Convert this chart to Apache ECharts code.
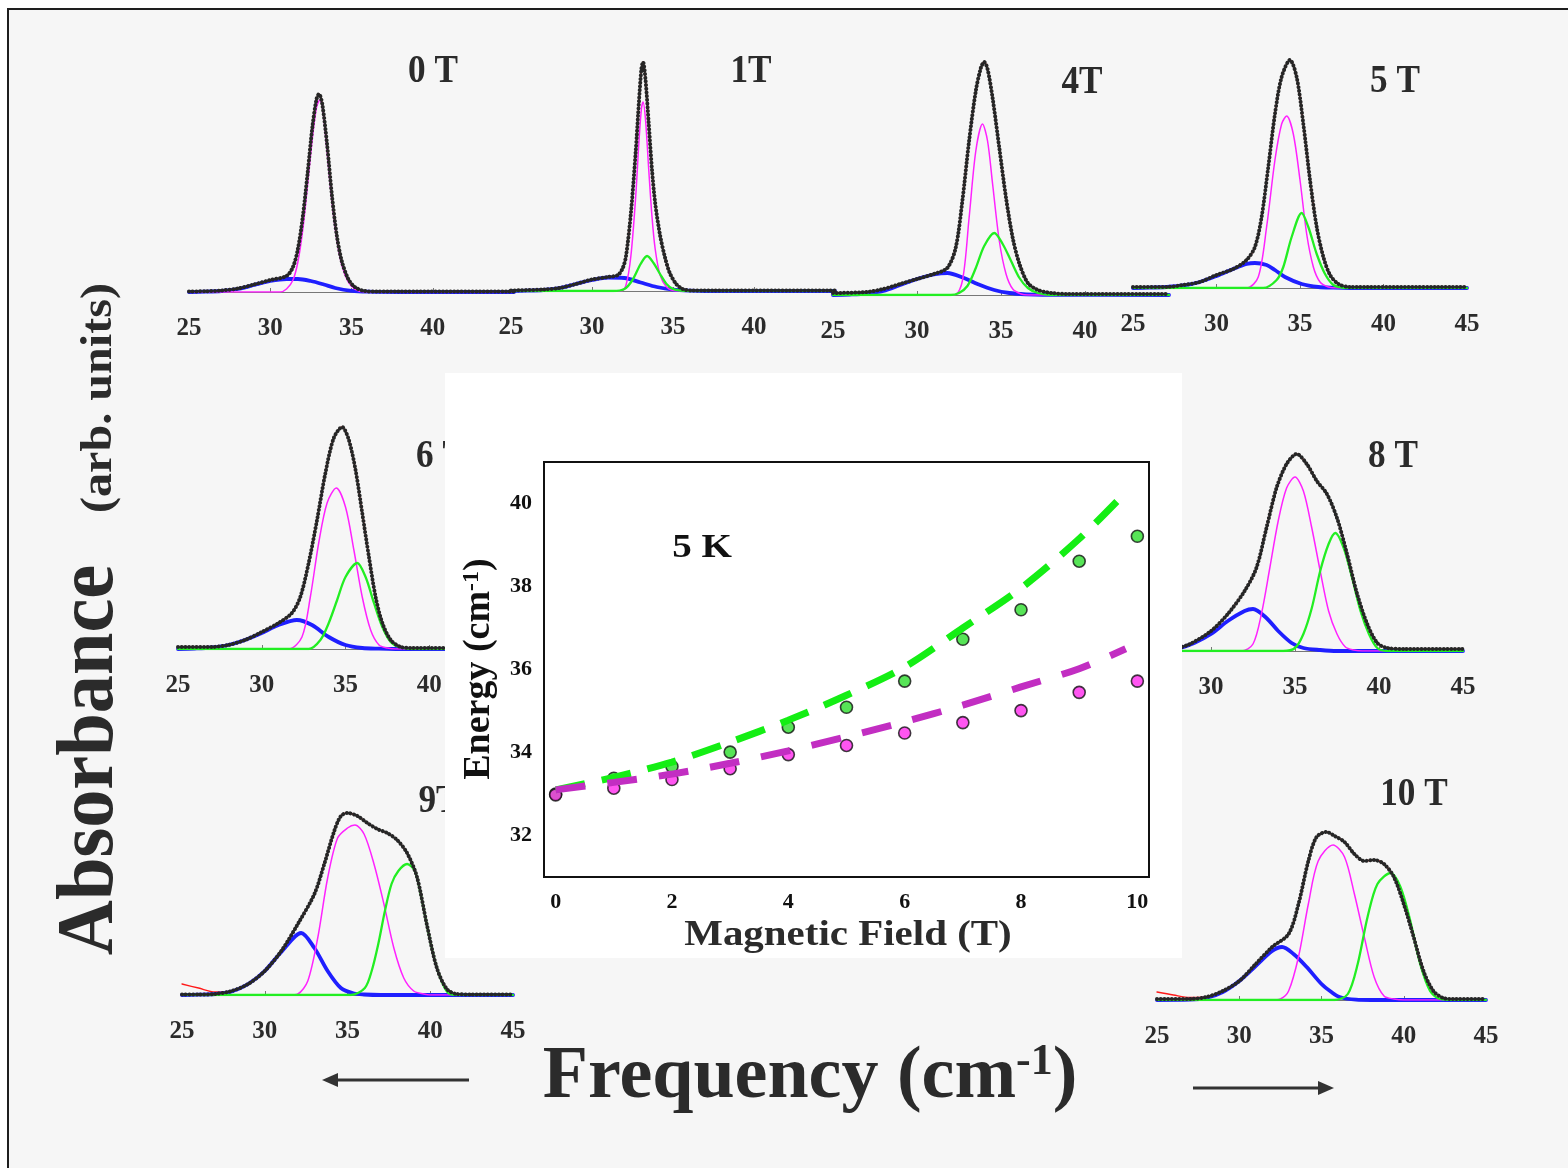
<!DOCTYPE html>
<html>
<head>
<meta charset="utf-8">
<script src="https://cdn.jsdelivr.net/npm/echarts@6/dist/echarts.min.js"></script>
<style>
  html, body { margin: 0; padding: 0; background: #fff; }
  #main { width: 1568px; height: 1168px; }
</style>
</head>
<body>
<div id="main"></div>
<script>
var FONT = "'Liberation Serif','Times New Roman',serif";
var INK = '#2b2b2b';

// spectra: [frequency (cm-1), absorbance (arb. units)]
// black = measured, blue / magenta / green = fitted components
var meas0T = [[25,0.5],[26,0.8],[27,1.5],[28,3.5],[29,7.5],[30,12],[31,16],[31.4,25],[31.7,43],[32,75],[32.3,119],[32.6,166],[32.85,193],[33,198],[33.2,188],[33.5,147],[33.8,96],[34.1,56],[34.4,31],[34.8,13],[35.2,5],[35.8,1],[36.5,0.5],[45,0.5]];
var blue0T = [[25,0],[26,0.3],[27,1],[28,3],[29,7],[30,11],[31,13],[31.7,13],[32.5,11],[33.3,7.5],[34,4],[35,1.2],[36,0.3],[38,0],[45,0]];
var magenta0T = [[25,0],[30.6,0],[31,3],[31.4,12],[31.7,30],[32,62],[32.3,108],[32.6,155],[32.85,185],[33.05,192],[33.25,180],[33.5,140],[33.8,90],[34.1,52],[34.4,27],[34.8,10],[35.2,3],[35.8,0],[45,0]];

var meas1T = [[25,0.5],[27,1.5],[28,3],[29,7],[30,11.5],[31,14],[31.6,16],[31.9,23],[32.1,35],[32.4,78],[32.7,140],[32.9,190],[33.05,222],[33.15,229],[33.3,212],[33.5,168],[33.7,122],[33.9,88],[34.2,56],[34.5,34],[34.8,18],[35.2,7],[35.6,2],[36.2,0.5],[45,0.5]];
var blue1T = [[25,0],[26,0.3],[27,1],[28,3],[29,7],[30,11],[31,13.5],[32,13],[33,8.5],[34,4],[35,1.3],[36,0.3],[37,0],[45,0]];
var magenta1T = [[25,0],[31.8,0],[32.1,6],[32.4,35],[32.7,95],[32.9,150],[33.05,182],[33.15,189],[33.3,172],[33.5,122],[33.7,75],[33.9,42],[34.2,16],[34.6,4],[35,0.5],[35.5,0],[45,0]];
var green1T = [[25,0],[31.3,0],[32,2],[32.5,11],[33,27],[33.4,35],[33.8,28],[34.2,17],[34.6,7],[35,2],[35.5,0.3],[36,0],[45,0]];

var meas4T = [[25,2],[27,3],[28,6],[29,11],[30,16],[31,21],[31.8,27],[32.3,47],[32.7,94],[33.1,154],[33.5,204],[33.8,227],[34,233],[34.2,226],[34.5,197],[34.9,147],[35.3,97],[35.7,57],[36.1,31],[36.6,12],[37.2,5],[38,2],[39,1],[45,1]];
var blue4T = [[25,0],[26,0.5],[27,1.5],[28,4],[29,10],[30,16],[31,20.5],[31.8,22],[32.8,17],[33.6,11],[34.6,5],[35.5,2],[36.5,0.7],[37.5,0.2],[45,0]];
var magenta4T = [[25,0],[32.2,0],[32.7,14],[33.1,77],[33.5,144],[33.9,171],[34.2,154],[34.5,111],[34.9,54],[35.3,21],[35.7,6],[36.2,1],[36.6,0],[45,0]];
var green4T = [[25,0],[32,0],[32.5,2],[33,9],[33.5,27],[34,49],[34.6,62],[35.1,51],[35.6,34],[36.1,17],[36.6,7],[37.2,2],[38,0],[45,0]];

var meas5T = [[25,1],[27,1],[28,3],[29,6],[30,13],[31,19],[31.8,28],[32.3,41],[32.7,71],[33.1,121],[33.5,174],[33.9,211],[34.4,228],[34.8,211],[35.2,164],[35.6,108],[36,61],[36.4,31],[36.8,13],[37.3,4],[38,1],[45,1]];
var blue5T = [[25,0],[26,0.3],[27,1],[28,2.5],[29,6],[30,12],[31,19],[31.8,24],[32.3,25],[33,23],[33.5,18],[34.1,11],[35.1,4],[36.1,1],[37,0.3],[38,0],[45,0]];
var magenta5T = [[25,0],[31.8,0],[32.5,11],[33,61],[33.5,128],[33.9,164],[34.2,172],[34.6,154],[35,108],[35.4,54],[35.8,21],[36.2,6],[36.7,1],[37.2,0],[45,0]];
var green5T = [[25,0],[32.8,0],[33.6,8],[34,21],[34.5,51],[35.1,75],[35.5,61],[36,34],[36.5,14],[37,3],[37.5,0.5],[38,0],[45,0]];

var meas6T = [[25,2],[27,2],[28,4],[29,9],[30,17],[31,26],[31.8,36],[32.3,52],[32.8,86],[33.3,129],[33.8,176],[34.3,211],[34.8,222],[35.2,209],[35.6,179],[36,136],[36.4,92],[36.8,52],[37.2,26],[37.7,9],[38.3,2],[39,1],[45,1]];
var blue6T = [[25,0],[26,0.5],[27,1.5],[28,4],[29,9],[30,16],[31,24],[32.1,29],[33,24],[34,12],[35,4],[36,1],[37,0.3],[38,0],[45,0]];
var magenta6T = [[25,0],[31.6,0],[32.4,12],[32.9,52],[33.4,106],[33.9,146],[34.45,161],[35,142],[35.5,99],[36,52],[36.5,19],[37,4],[37.5,1],[38,0],[45,0]];
var green6T = [[25,0],[32.8,0],[33.5,9],[34,26],[34.5,49],[35,72],[35.7,86],[36.2,72],[36.7,46],[37.2,22],[37.7,7],[38.2,2],[39,0],[45,0]];

var meas8T = [[25,1],[26,1],[27,1.5],[28,3],[28.75,7],[30,20],[31,37],[32,60],[32.7,83],[33.3,123],[33.9,163],[34.5,187],[35.1,197],[35.7,187],[36.3,170],[36.9,157],[37.5,133],[38.1,97],[38.7,57],[39.3,27],[39.9,8],[40.5,3],[41.5,2],[45,2]];
var blue8T = [[25,0],[26,0.1],[27,0.5],[28,2.2],[29,8],[30,17],[31,30],[32,40],[32.5,42],[33.3,33],[34,20],[34.8,8],[35.5,3],[36.5,1],[37.5,0],[45,0]];
var magenta8T = [[25,0],[31.8,0],[32.5,7],[33,37],[33.5,83],[34,130],[34.5,163],[35,174],[35.5,160],[36,123],[36.5,80],[37,40],[37.5,17],[38,4],[38.5,1],[39,0],[45,0]];
var green8T = [[25,0],[34.3,0],[35,3],[35.5,17],[36,43],[36.5,80],[37,107],[37.4,118],[37.9,103],[38.4,73],[38.9,40],[39.4,17],[39.9,3],[40.5,0],[45,0]];

var meas9T = [[25,0.5],[26,0.5],[27,1],[28,4],[29,11],[30,24],[31,44],[32,71],[33,101],[33.6,131],[34.2,164],[34.6,179],[35,182],[35.6,179],[36.2,172],[36.8,166],[37.4,162],[38,155],[38.6,142],[39.2,118],[39.8,70],[40.4,27],[41,6],[41.6,1],[42.5,0.5],[45,0.5]];
var redStart9T = [[25,11],[26,7],[27,3]];
var blue9T = [[25,0],[26,0.3],[27,1],[28,3.5],[29,11],[30,24],[31,43],[32.2,62],[33,47],[33.8,24],[34.6,7],[35.4,1.5],[36,0.5],[37,0],[45,0]];
var magenta9T = [[25,0],[31.5,0],[32,1],[32.6,14],[33.2,57],[33.8,117],[34.4,157],[35,167],[35.45,170],[36,161],[36.6,131],[37.2,91],[37.8,47],[38.4,17],[39,4],[39.6,1],[40,0],[45,0]];
var green9T = [[25,0],[35.2,0],[36.05,7],[36.46,24],[36.86,51],[37.26,84],[37.66,111],[38.07,124],[38.6,131],[39.07,124],[39.47,97],[39.87,64],[40.28,34],[40.68,14],[41.08,2],[41.6,0],[45,0]];

var meas10T = [[25,1],[27,1],[28,3],[29,9],[30,19],[31,36],[32,53],[33,66],[33.6,96],[34.2,139],[34.7,163],[35.3,168],[35.8,164],[36.4,158],[37,146],[37.6,139],[38.2,140],[38.8,136],[39.4,123],[40,96],[40.6,63],[41.2,29],[41.8,9],[42.4,2],[43,1],[45,1]];
var redStart10T = [[25,8],[26,5],[27,2.5]];
var blue10T = [[25,0],[27,0.3],[28,2],[29,8],[30,19],[31,34],[32,49],[32.6,53],[33.3,46],[34.1,33],[35,16],[35.6,8],[36.1,3],[37.1,0.3],[38,0],[45,0]];
var magenta10T = [[25,0],[32,0],[32.5,1],[33,9],[33.6,43],[34.2,96],[34.8,139],[35.7,155],[36.4,143],[37,106],[37.6,63],[38.2,23],[38.8,4],[39.4,1],[40,0],[45,0]];
var green10T = [[25,0],[35.8,0],[36.6,6],[37.2,36],[37.8,83],[38.4,116],[39.2,127],[39.8,113],[40.4,79],[41,36],[41.6,9],[42.2,1],[43,0],[45,0]];

// inset: peak energy vs magnetic field at 5 K
var fieldT = [0, 1, 2, 3, 4, 5, 6, 7, 8, 9, 10];
var peakGreen = [33.0, 33.38, 33.66, 34.01, 34.61, 35.09, 35.72, 36.73, 37.44, 38.61, 39.21];
var peakMagenta = [32.98, 33.14, 33.35, 33.61, 33.95, 34.17, 34.47, 34.72, 35.01, 35.45, 35.72];
var fitFieldT = [0, 1, 2, 3, 4, 5, 6, 7, 8, 9, 9.8];
var fitGreen = [33.1, 33.4, 33.77, 34.25, 34.78, 35.38, 36.06, 37.0, 37.96, 39.15, 40.27];
var fitMagenta = [33.1, 33.28, 33.48, 33.74, 34.04, 34.38, 34.74, 35.14, 35.58, 36.02, 36.5];
var fieldTicks = [0, 2, 4, 6, 8, 10];
var energyTicks = [32, 34, 36, 38, 40];

// panel layout (pixels)
var panels = [
  {name: '0 T', meas: meas0T, blue: blue0T, magenta: magenta0T, labels: [25,30,35,40], left: 189, base: 292, width: 325, tx: 433, ty: 72},
  {name: '1T', meas: meas1T, blue: blue1T, magenta: magenta1T, green: green1T, labels: [25,30,35,40], left: 511, base: 291, width: 324, tx: 751, ty: 72},
  {name: '4T', meas: meas4T, blue: blue4T, magenta: magenta4T, green: green4T, labels: [25,30,35,40], left: 833, base: 295, width: 336, tx: 1082, ty: 83},
  {name: '5 T', meas: meas5T, blue: blue5T, magenta: magenta5T, green: green5T, labels: [25,30,35,40,45], left: 1133, base: 288, width: 334, tx: 1395, ty: 82},
  {name: '6 T', meas: meas6T, blue: blue6T, magenta: magenta6T, green: green6T, labels: [25,30,35,40], left: 178, base: 649, width: 335, tx: 441, ty: 457},
  {name: '8 T', meas: meas8T, blue: blue8T, magenta: magenta8T, green: green8T, labels: [30,35,40,45], left: 1127, base: 651, width: 336, tx: 1393, ty: 457},
  {name: '9T', meas: meas9T, red: redStart9T.concat(meas9T.slice(3)), blue: blue9T, magenta: magenta9T, green: green9T, labels: [25,30,35,40,45], left: 182, base: 995, width: 331, tx: 439, ty: 802},
  {name: '10 T', meas: meas10T, red: redStart10T.concat(meas10T.slice(2)), blue: blue10T, magenta: magenta10T, green: green10T, labels: [25,30,35,40,45], left: 1157, base: 1000, width: 329, tx: 1414, ty: 795}
];

var H = 240;
var grids = [], xAxes = [], yAxes = [], series = [];
var graphics = [
  {type: 'rect', z: -1, shape: {x: 8, y: 9, width: 1600, height: 1200}, style: {fill: '#f6f6f6', stroke: '#1e1e1e', lineWidth: 2}}
];

function curve(i, data, color, width, z, dash) {
  return {
    type: 'line', xAxisIndex: i, yAxisIndex: i, data: data, smooth: 0.3,
    symbol: 'none', silent: true, z: z,
    lineStyle: {color: color, width: width, type: dash || 'solid', cap: 'round'}
  };
}

function text(str, x, y, size, extra) {
  var el = {
    type: 'text', x: x, y: y, z: 1,
    style: {
      text: str, fill: INK, font: 'bold ' + size + 'px ' + FONT,
      align: 'center', verticalAlign: 'middle', textAlign: 'center', textVerticalAlign: 'middle'
    }
  };
  for (var k in extra) el[k] = extra[k];
  return el;
}

panels.forEach(function (p, i) {
  grids.push({left: p.left, top: p.base - H, width: p.width, height: H});
  xAxes.push({
    gridIndex: i, type: 'value', min: 25, max: 45,
    axisLine: {show: true, lineStyle: {color: '#777', width: 1}},
    axisTick: {show: true, customValues: [30, 35, 40], inside: true, length: 4, lineStyle: {color: '#777'}},
    axisLabel: {customValues: p.labels, margin: 24, fontSize: 25, fontWeight: 'bold', fontFamily: FONT, color: INK},
    splitLine: {show: false}
  });
  yAxes.push({gridIndex: i, type: 'value', min: 0, max: H, show: false});

  series.push(curve(i, p.red || p.meas, '#ff1a1a', 1.3, 3));
  series.push(curve(i, p.blue, '#1f1fff', 3.8, 4));
  series.push(curve(i, p.magenta, '#ff22ff', 1.5, 5));
  if (p.green) series.push(curve(i, p.green, '#22ee22', 2.3, 5));
  series.push(curve(i, p.meas, '#262626', 4, 6, [0.1, 3.6]));

  graphics.push(text(p.name, p.tx, p.ty, 40, {scaleX: 0.88}));
});

// inset
var IN = panels.length;
grids.push({left: 544, top: 462, width: 605, height: 415, show: true, z: 55,
  backgroundColor: 'transparent', borderColor: '#111', borderWidth: 2});
xAxes.push({
  gridIndex: IN, type: 'value', min: -0.2, max: 10.2, z: 60,
  axisLine: {show: false}, axisTick: {show: false}, splitLine: {show: false},
  axisLabel: {customValues: fieldTicks, margin: 14, fontSize: 22, fontWeight: 'bold', fontFamily: FONT, color: '#111'}
});
yAxes.push({
  gridIndex: IN, type: 'value', min: 31, max: 41, z: 60,
  axisLine: {show: false}, axisTick: {show: false}, splitLine: {show: false},
  axisLabel: {customValues: energyTicks, margin: 12, fontSize: 22, fontWeight: 'bold', fontFamily: FONT, color: '#111'}
});

function pairs(xs, ys) {
  return xs.map(function (x, k) { return [x, ys[k]]; });
}

series.push({type: 'scatter', xAxisIndex: IN, yAxisIndex: IN, z: 62, symbolSize: 12,
  data: pairs(fieldT, peakGreen),
  itemStyle: {color: '#2ddd2d', borderColor: '#111', borderWidth: 1.6}});
series.push({type: 'scatter', xAxisIndex: IN, yAxisIndex: IN, z: 62, symbolSize: 12,
  data: pairs(fieldT, peakMagenta),
  itemStyle: {color: '#ff2aee', borderColor: '#111', borderWidth: 1.6}});
series.push({type: 'line', xAxisIndex: IN, yAxisIndex: IN, z: 63, smooth: 0.3, symbol: 'none',
  data: pairs(fitFieldT, fitGreen),
  lineStyle: {color: '#14ee14', width: 7, type: [30, 17]}});
series.push({type: 'line', xAxisIndex: IN, yAxisIndex: IN, z: 63, smooth: 0.3, symbol: 'none',
  data: pairs(fitFieldT, fitMagenta),
  lineStyle: {color: '#c22ec2', width: 7, type: [30, 22]}});

// inset card, covers the panels behind it
graphics.push({type: 'rect', z: 50, shape: {x: 445, y: 373, width: 737, height: 585}, style: {fill: '#ffffff'}});
graphics.push(text('5 K', 702, 548, 34, {z: 60, scaleX: 1.15, style: {text: '5 K', fill: '#111', font: 'bold 34px ' + FONT, align: 'center', verticalAlign: 'middle', textAlign: 'center', textVerticalAlign: 'middle'}}));
graphics.push(text('Magnetic Field (T)', 848, 936, 35, {z: 60, scaleX: 1.17}));
graphics.push({
  type: 'text', x: 479, y: 669, z: 60, rotation: Math.PI / 2,
  style: {
    text: '{a|Energy (cm}{s|-1}{a|)}', align: 'center', verticalAlign: 'middle', textAlign: 'center', textVerticalAlign: 'middle',
    rich: {
      a: {fontSize: 38, fontWeight: 'bold', fontFamily: FONT, fill: '#111'},
      s: {fontSize: 24, fontWeight: 'bold', fontFamily: FONT, fill: '#111', verticalAlign: 'top'}
    }
  }
});

// big figure labels
graphics.push(text('Absorbance', 91, 760, 80, {rotation: Math.PI / 2, scaleX: 0.955}));
graphics.push(text('(arb. units)', 99, 398, 45, {rotation: Math.PI / 2, scaleX: 1.07}));
graphics.push({
  type: 'text', x: 810, y: 1078, z: 1,
  style: {
    text: '{a|Frequency (cm}{s|-1}{a|)}', align: 'center', verticalAlign: 'middle', textAlign: 'center', textVerticalAlign: 'middle',
    rich: {
      a: {fontSize: 74, fontWeight: 'bold', fontFamily: FONT, fill: INK},
      s: {fontSize: 44, fontWeight: 'bold', fontFamily: FONT, fill: INK, verticalAlign: 'top'}
    }
  }
});

// arrows
graphics.push({type: 'line', z: 1, shape: {x1: 469, y1: 1080, x2: 332, y2: 1080}, style: {stroke: '#333', lineWidth: 3}});
graphics.push({type: 'polygon', z: 1, shape: {points: [[322, 1080], [338, 1073], [338, 1087]]}, style: {fill: '#333'}});
graphics.push({type: 'line', z: 1, shape: {x1: 1193, y1: 1088, x2: 1324, y2: 1088}, style: {stroke: '#333', lineWidth: 3}});
graphics.push({type: 'polygon', z: 1, shape: {points: [[1334, 1088], [1318, 1081], [1318, 1095]]}, style: {fill: '#333'}});

var chart = echarts.init(document.getElementById('main'), null, {renderer: 'canvas'});
chart.setOption({
  backgroundColor: '#ffffff',
  animation: false,
  grid: grids,
  xAxis: xAxes,
  yAxis: yAxes,
  series: series,
  graphic: {elements: graphics}
});
window.onresize = chart.resize;
</script>
</body>
</html>
